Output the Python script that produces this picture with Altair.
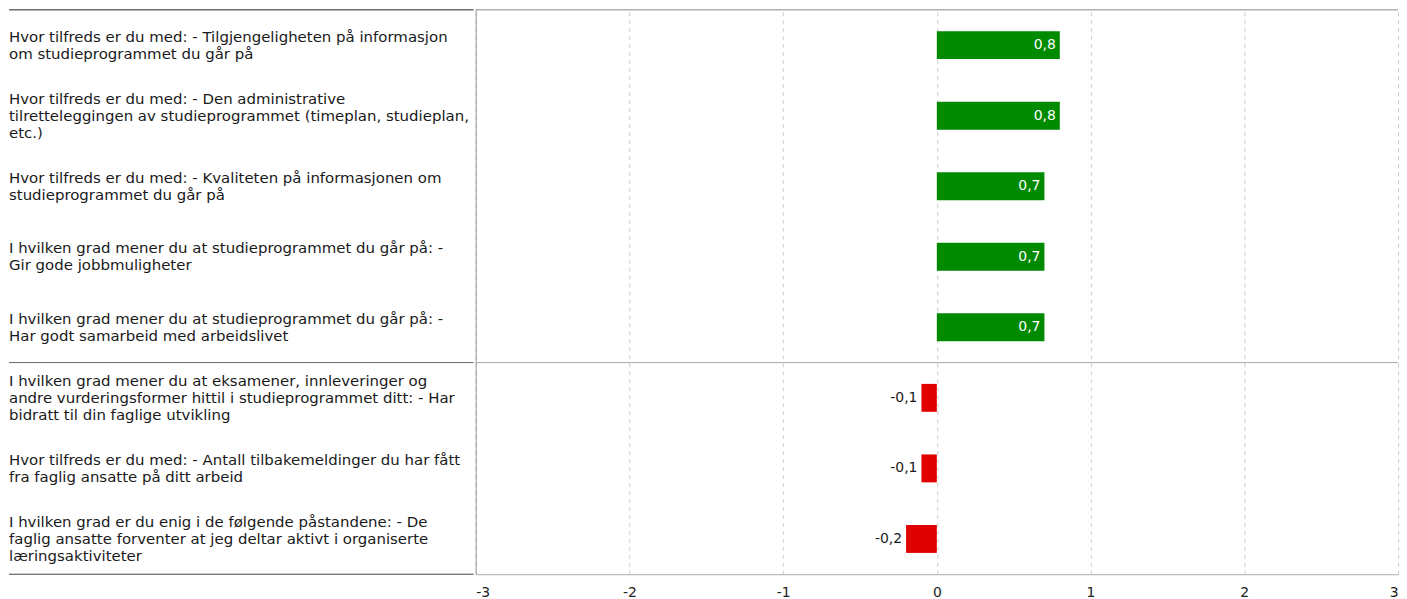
import altair as alt
import pandas as pd

labels = [
    "Hvor tilfreds er du med: - Tilgjengeligheten på informasjon\nom studieprogrammet du går på",
    "Hvor tilfreds er du med: - Den administrative\ntilretteleggingen av studieprogrammet (timeplan, studieplan,\netc.)",
    "Hvor tilfreds er du med: - Kvaliteten på informasjonen om\nstudieprogrammet du går på",
    "I hvilken grad mener du at studieprogrammet du går på: -\nGir gode jobbmuligheter",
    "I hvilken grad mener du at studieprogrammet du går på: -\nHar godt samarbeid med arbeidslivet",
    "I hvilken grad mener du at eksamener, innleveringer og\nandre vurderingsformer hittil i studieprogrammet ditt: - Har\nbidratt til din faglige utvikling",
    "Hvor tilfreds er du med: - Antall tilbakemeldinger du har fått\nfra faglig ansatte på ditt arbeid",
    "I hvilken grad er du enig i de følgende påstandene: - De\nfaglig ansatte forventer at jeg deltar aktivt i organiserte\nlæringsaktiviteter",
]
values = [0.8, 0.8, 0.7, 0.7, 0.7, -0.1, -0.1, -0.2]
x_ticks = [-3, -2, -1, 0, 1, 2, 3]
group_starts = [labels[0], labels[5]]
last_label = [labels[-1]]

df = pd.DataFrame({"label": labels, "value": values})
df["nlines"] = [l.count("\n") + 1 for l in labels]
sep_start = pd.DataFrame({"label": group_starts, "kind": ["top", "mid"]})
sep_end = pd.DataFrame({"label": last_label})

FONT = "DejaVu Sans"
LH = 17
H = 566
yscale = alt.Scale(domain=labels, paddingInner=0, paddingOuter=0)
MINUS = "\u2212"

# Left panel: question texts (multi-line blocks centred on each row)
def label_layer(n):
    return alt.Chart(df).transform_filter(f"datum.nlines == {n}").mark_text(
        align="left", baseline="middle", font=FONT, fontSize=15, lineBreak="\n",
        lineHeight=LH, color="#1a1a1a", dy=-(n - 1) * LH / 2
    ).encode(
        x=alt.value(0),
        y=alt.Y("label:N", scale=yscale, axis=None),
        text="label:N",
    )

left_rules = alt.Chart(sep_start).mark_rule(strokeWidth=1).encode(
    y=alt.Y("label:N", scale=yscale, axis=None, bandPosition=0),
    color=alt.Color("kind:N", scale=alt.Scale(domain=["top", "mid"], range=["#222222", "#666666"]), legend=None),
)
left_bottom = alt.Chart(sep_end).mark_rule(color="#444444", strokeWidth=1).encode(
    y=alt.Y("label:N", scale=yscale, axis=None, bandPosition=1),
)
left = alt.layer(label_layer(2), label_layer(3), left_rules, left_bottom).properties(width=466, height=H)

# Right panel: bars
xscale = alt.Scale(domain=[-3, 3], nice=False)
xaxis = alt.Axis(
    values=x_ticks, title=None, ticks=False, labelPadding=11, labelFlush=True,
    labelExpr=f"replace(format(datum.value, 'd'), '{MINUS}', '-')",
    labelFont=FONT, labelFontSize=14, labelColor="#222222",
    grid=True, gridDash=[4, 4], gridColor="#cccccc",
    domainColor="#aaaaaa",
)
base = alt.Chart(df).transform_calculate(
    txt=f"replace(replace(format(datum.value, '.1f'), '.', ','), '{MINUS}', '-')",
    pos="datum.value > 0 ? 'pos' : 'neg'",
)
bars = base.mark_bar(height=28).encode(
    x=alt.X("value:Q", scale=xscale, axis=xaxis),
    y=alt.Y("label:N", scale=yscale,
            axis=alt.Axis(labels=False, ticks=False, title=None, grid=False,
                          domain=True, domainColor="#999999")),
    color=alt.Color("pos:N", scale=alt.Scale(domain=["pos", "neg"], range=["#008a00", "#e00000"]), legend=None),
)
vals = base.mark_text(
    align="right", baseline="middle", dx=-4, font=FONT, fontSize=14
).encode(
    x=alt.X("value:Q", scale=xscale),
    y=alt.Y("label:N", scale=yscale),
    text="txt:N",
    color=alt.Color("pos:N", scale=alt.Scale(domain=["pos", "neg"], range=["#ffffff", "#1a1a1a"]), legend=None),
)
right_rules = alt.Chart(sep_start).mark_rule(strokeWidth=1).encode(
    y=alt.Y("label:N", scale=yscale, bandPosition=0),
    color=alt.Color("kind:N", scale=alt.Scale(domain=["top", "mid"], range=["#888888", "#aaaaaa"]), legend=None),
)
right = alt.layer(bars, right_rules, vals).resolve_scale(color="independent").properties(width=925, height=H)

chart = alt.hconcat(left, right, spacing=0).resolve_scale(color="independent").configure(
    padding=0
).configure_view(stroke=None)

chart.save("out.html", embed_options={"renderer": "svg", "actions": False})
